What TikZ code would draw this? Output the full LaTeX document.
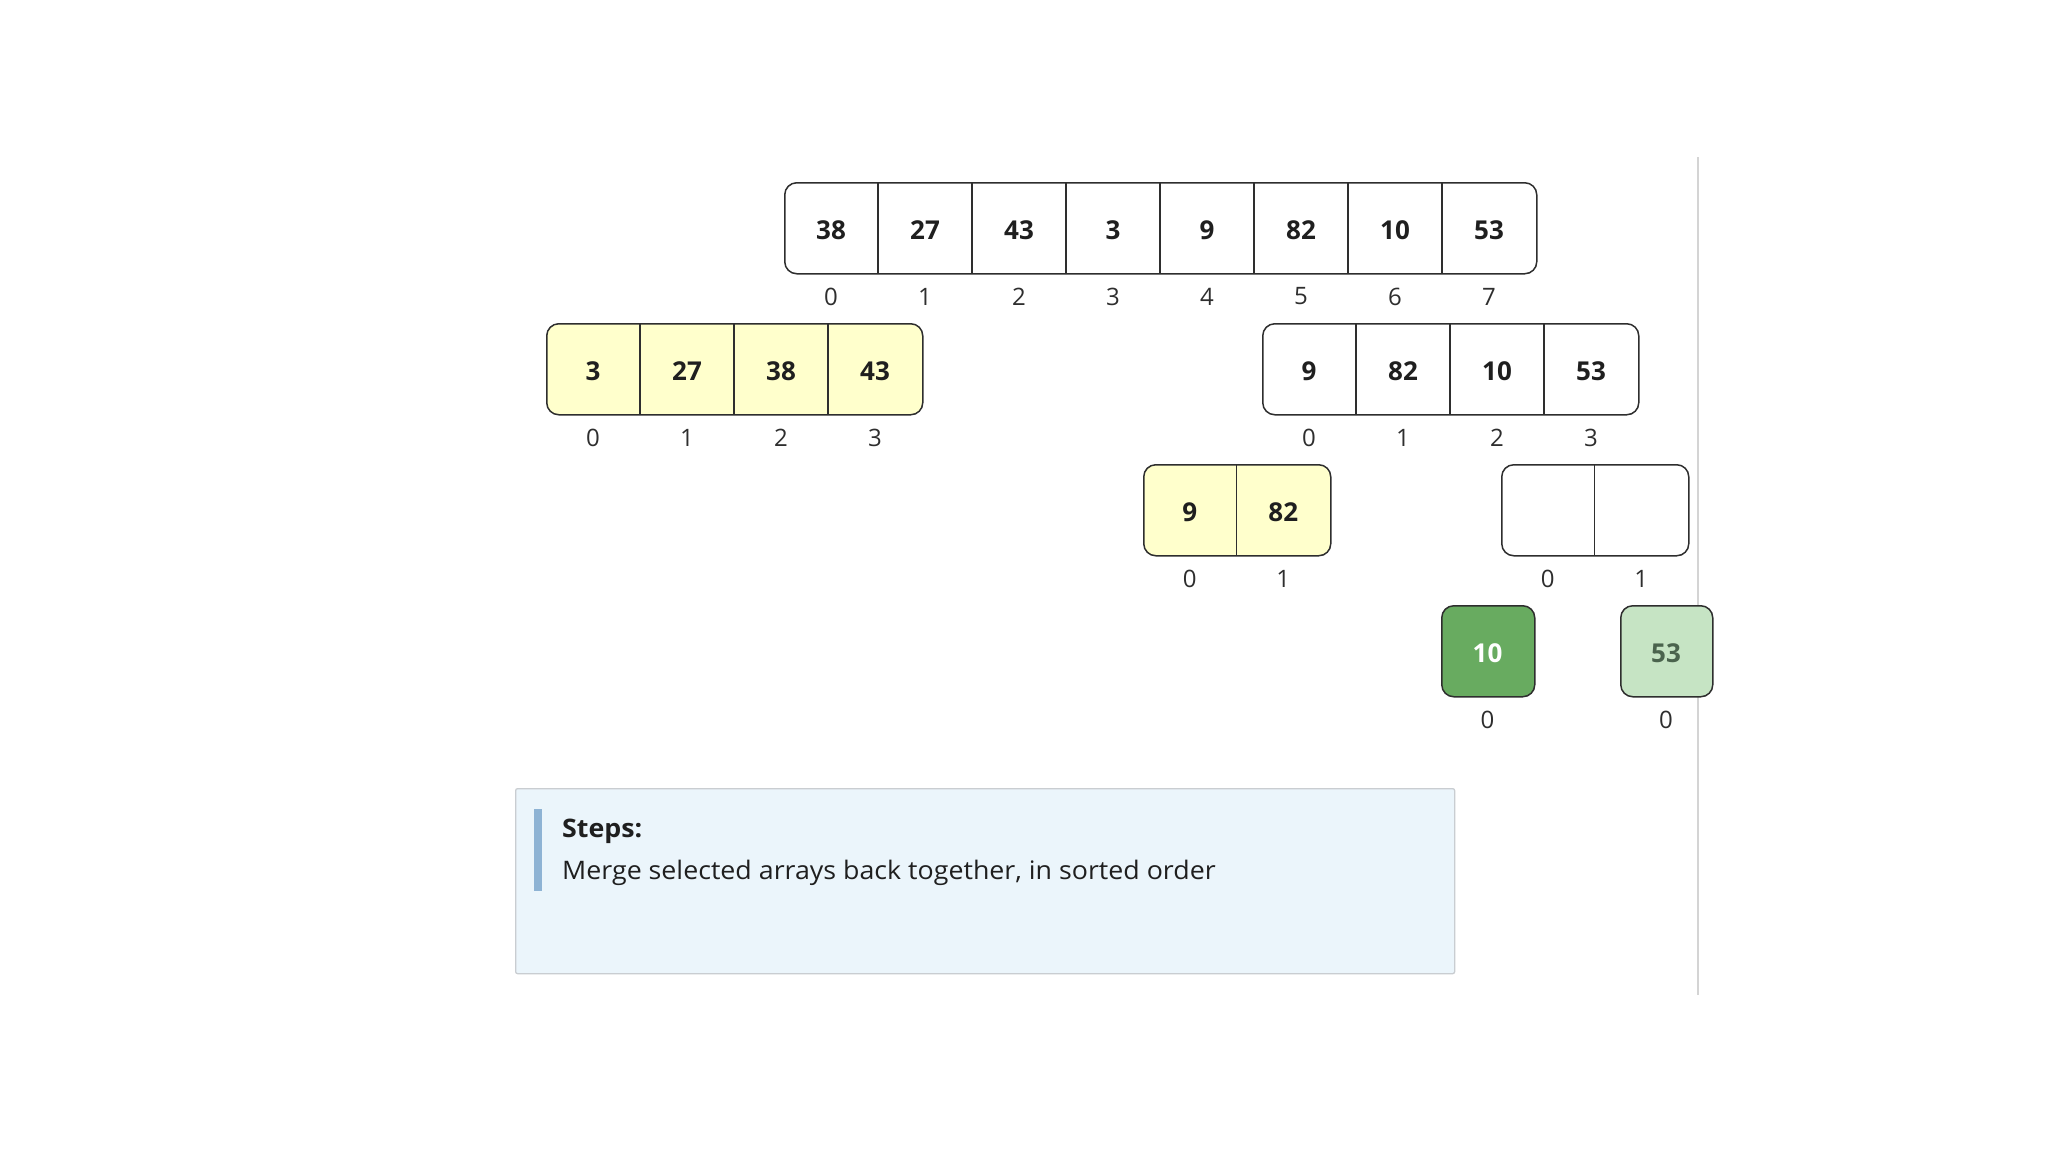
\documentclass[tikz,border=0pt]{standalone}
\usepackage{fontspec}
\setmainfont{Open Sans}
\newfontfamily\stepfont{Open Sans}[FakeStretch=1.05]
\definecolor{linec}{HTML}{2E2E2E}
\definecolor{yel}{HTML}{FFFFCC}
\definecolor{dgreen}{HTML}{68AB60}
\definecolor{lgreen}{HTML}{C6E4C4}
\definecolor{lgtext}{HTML}{4A634D}
\definecolor{stepfill}{HTML}{EBF5FB}
\definecolor{stepdraw}{HTML}{C9CDD1}
\definecolor{barc}{HTML}{8EB3D4}
\definecolor{vline}{HTML}{D4D4D4}
\begin{document}
\begin{tikzpicture}[x=1pt,y=-1pt,
  arrbox/.style={draw=linec, line width=1.5pt, rounded corners=12pt, minimum height=91pt, inner sep=0pt, anchor=north west, fill=white},
  val/.style={font=\bfseries\fontsize{26}{30}\selectfont, text=black!88, inner sep=0pt},
  idx/.style={font=\fontsize{24}{28}\selectfont, text=black!82, inner sep=0pt},
  sep/.style={draw=linec, line width=1.5pt},
  txt/.style={font=\stepfont\fontsize{25.5}{30}\selectfont, text=black!88, inner sep=0pt, anchor=base west}
]
\useasboundingbox (0,0) rectangle (2048,1152);
\fill[white] (0,0) rectangle (2048,1152);
% divider line
\draw[vline, line width=2pt] (1698,157) -- (1698,995);

% top array
\node[arrbox, minimum width=752pt] (T) at (784,182) {};
\foreach \i in {1,...,7} \draw[sep] (784+94*\i,182) -- (784+94*\i,273);
\foreach \v [count=\i from 0] in {38,27,43,3,9,82,10,53} {
  \node[val] (T\i) at (784+94*\i+47,230) {\v};
  \node[idx] (Ti\i) at (784+94*\i+47,296.5) {\i};
}

% row 2 left (yellow)
\node[arrbox, minimum width=376pt, fill=yel] (L) at (546,323) {};
\foreach \i in {1,...,3} \draw[sep] (546+94*\i,323) -- (546+94*\i,414);
\foreach \v [count=\i from 0] in {3,27,38,43} {
  \node[val] (L\i) at (546+94*\i+47,371) {\v};
  \node[idx] (Li\i) at (546+94*\i+47,437.5) {\i};
}

% row 2 right
\node[arrbox, minimum width=376pt] (R) at (1262,323) {};
\foreach \i in {1,...,3} \draw[sep] (1262+94*\i,323) -- (1262+94*\i,414);
\foreach \v [count=\i from 0] in {9,82,10,53} {
  \node[val] (R\i) at (1262+94*\i+47,371) {\v};
  \node[idx] (Ri\i) at (1262+94*\i+47,437.5) {\i};
}

% row 3 left (yellow)
\node[arrbox, minimum width=187pt, fill=yel] (P) at (1143,464) {};
\draw[sep] (1236.5,464) -- (1236.5,555);
\foreach \v [count=\i from 0] in {9,82} {
  \node[val] (P\i) at (1143+93.5*\i+46.75,512) {\v};
  \node[idx] (Pi\i) at (1143+93.5*\i+46.75,578.5) {\i};
}

% row 3 right (empty)
\node[arrbox, minimum width=187pt] (Q) at (1501,464) {};
\draw[sep] (1594.5,464) -- (1594.5,555);
\foreach \i in {0,1} {
  \node[idx] (Qi\i) at (1501+93.5*\i+46.75,578.5) {\i};
}

% row 4 singles
\node[arrbox, minimum width=93pt, fill=dgreen] (G) at (1441,605) {};
\node[val, text=white] (G0) at (1487.5,653) {10};
\node[idx] (Gi0) at (1487.5,719.5) {0};
\node[arrbox, minimum width=92pt, fill=lgreen] (H) at (1620,605) {};
\node[val, text=lgtext] (H0) at (1666,653) {53};
\node[idx] (Hi0) at (1666,719.5) {0};

% steps box
\node[draw=stepdraw, fill=stepfill, line width=1.3pt, rounded corners=2pt, minimum width=939pt, minimum height=185pt, inner sep=0pt, anchor=north west] (S) at (515,788) {};
\fill[barc] (534,809) rectangle (542,891);
\node[txt, font=\stepfont\bfseries\fontsize{25.5}{30}\selectfont] (S1) at (562,837) {Steps:};
\node[txt] (S2) at (562,879) {Merge selected arrays back together, in sorted order};
\end{tikzpicture}
\end{document}
